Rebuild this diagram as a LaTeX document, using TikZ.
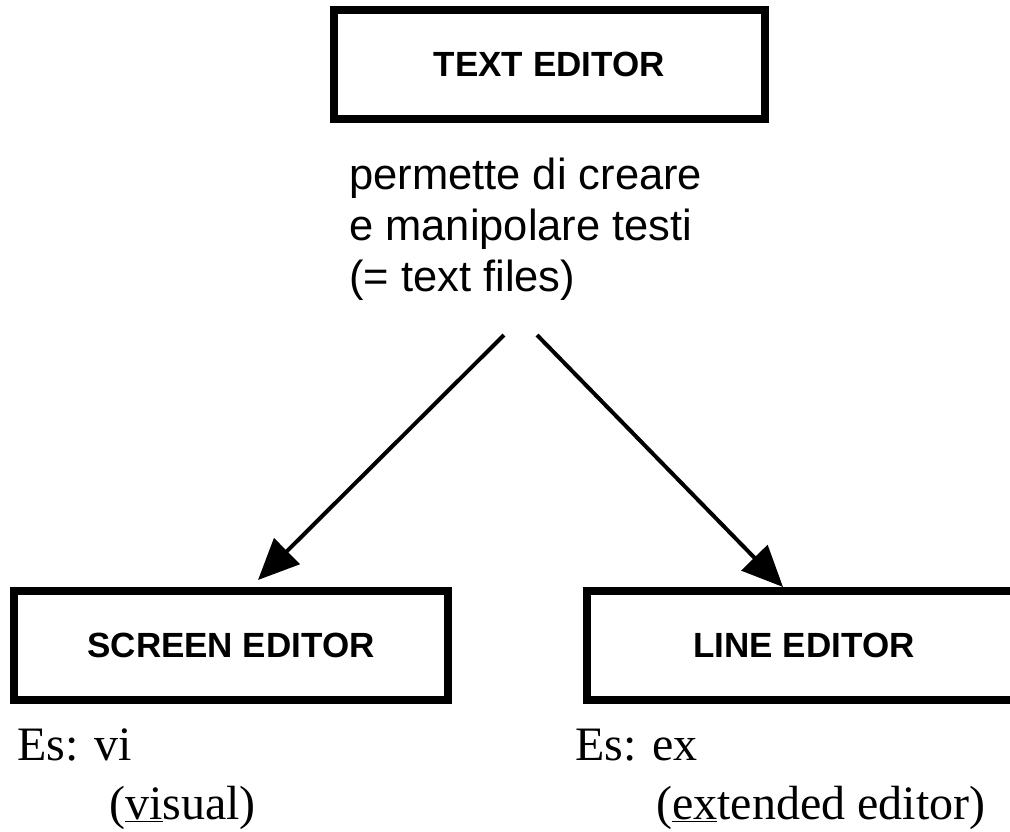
\documentclass[tikz,border=0pt]{standalone}
\usepackage{fontspec}
\setmainfont{Liberation Sans}
\newfontfamily\esfont{Liberation Serif}
\usetikzlibrary{arrows.meta,positioning,calc}

\begin{document}
\begin{tikzpicture}[x=1pt, y=-1pt,
  box/.style={draw=black, line width=8pt, minimum width=434pt,
              minimum height=108.5pt, inner sep=0pt, align=center,
              font=\fontsize{35}{42}\selectfont\bfseries},
  arr/.style={-{Triangle[length=41pt, width=36pt]}, line width=4pt, draw=black},
  note/.style={inner sep=0pt, anchor=base west,
               font=\esfont\fontsize{48}{58}\selectfont},
]

\useasboundingbox (0,0) rectangle (1010,831);
\clip (0,0) rectangle (1010,831);

% Editor boxes
\node[box, minimum width=431.5pt, minimum height=109.5pt] (texted) at (549.25, 64.25) {TEXT EDITOR};
\node[box] (screened) at (231.00, 645.25) {SCREEN EDITOR};
\node[box] (lineed) at (804.00, 645.25) {LINE EDITOR};

% Description below the top box
\node[inner sep=0pt, anchor=north west, align=left,
      font=\fontsize{43.5}{51}\selectfont] (descr) at (349, 158)
  {permette di creare\\e manipolare testi\\(= text files)};

% Arrows down to the two kinds
\coordinate (fromL) at (504, 335);
\coordinate (fromR) at (537, 335);
\draw[arr] (fromL) -- ([xshift=27pt, yshift=7pt]screened.north);
\draw[arr] (fromR) -- ([xshift=-21pt]lineed.north);

% Examples
\node[note] (vi) at (17, 760) {Es: vi};
\node[note] (visual) at (109, 819) {(\underline{vi}sual)};
\node[note] (ex) at (575, 760) {Es: ex};
\node[note] (extended) at (656, 819) {(\underline{ex}tended editor)};

\end{tikzpicture}
\end{document}
